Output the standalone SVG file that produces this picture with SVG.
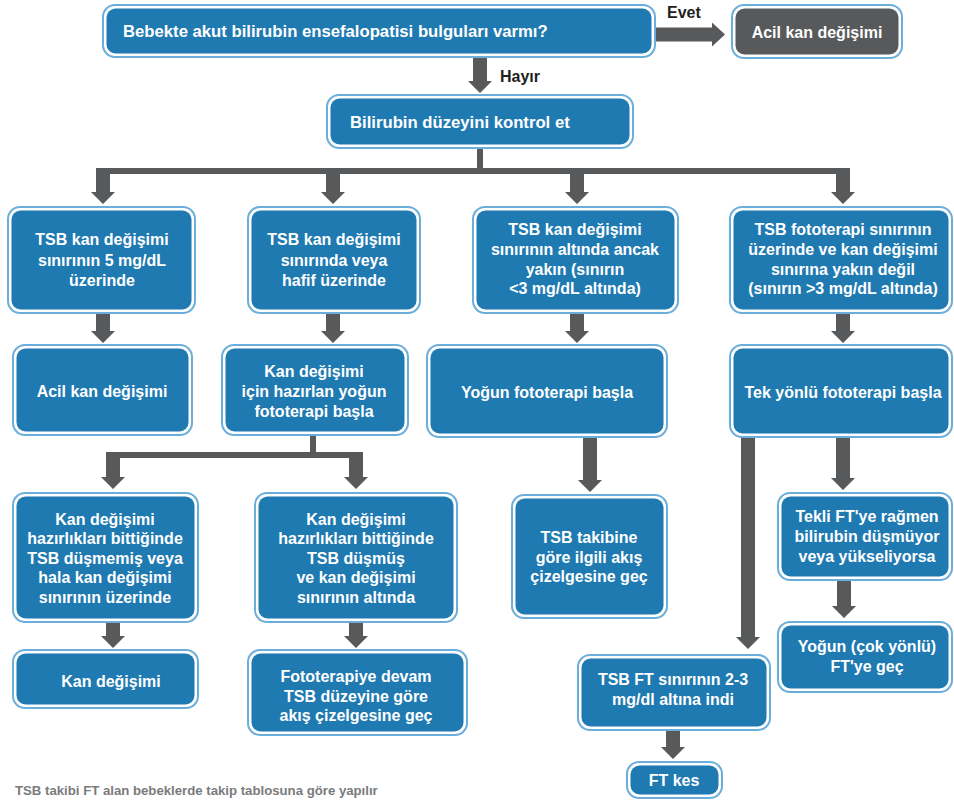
<svg xmlns="http://www.w3.org/2000/svg" width="954" height="805" viewBox="0 0 954 805">
<style>
.o{fill:#fff;stroke:#6caedb;stroke-width:2}
.i{fill:#1f7ab1}
.d{fill:#58595b}
.t{font-family:"Liberation Sans",Arial,sans-serif;font-weight:bold;font-size:16px;fill:#fff;text-anchor:middle}
.l{text-anchor:start;font-size:16.7px}
.k{font-family:"Liberation Sans",Arial,sans-serif;font-weight:bold;font-size:16px;fill:#231f20}
.a{fill:#58595b}
.ln{stroke:#58595b;stroke-width:6;fill:none}
.f{font-family:"Liberation Sans",Arial,sans-serif;font-weight:bold;font-size:13.2px;fill:#7a7b7d}
</style>
<rect width="954" height="805" fill="#fff"/>
<g id="connectors">
<path class="a" d="M656,27.5 H712 V22.5 L725,34.5 L712,46.5 V41.5 H656 Z"/>
<text class="k" x="667" y="18">Evet</text>
<path class="a" d="M473,57 H487 V81 H492 L480,93 L468,81 H473 Z"/>
<text class="k" x="500" y="82">Hayır</text>
<path class="ln" d="M480,148 V171 M96,171 H850 M313,435 V455 M106,455 H363"/>
<path class="a" d="M96,168 H110 V192 H115 L103,204 L91,192 H96 Z"/>
<path class="a" d="M326,168 H340 V192 H345 L333,204 L321,192 H326 Z"/>
<path class="a" d="M570,168 H584 V192 H589 L577,204 L565,192 H570 Z"/>
<path class="a" d="M836,168 H850 V192 H855 L843,204 L831,192 H836 Z"/>
<path class="a" d="M96,313 H110 V331 H115 L103,343 L91,331 H96 Z"/>
<path class="a" d="M326,313 H340 V331 H345 L333,343 L321,331 H326 Z"/>
<path class="a" d="M570,313 H584 V331 H589 L577,343 L565,331 H570 Z"/>
<path class="a" d="M836,313 H850 V331 H855 L843,343 L831,331 H836 Z"/>
<path class="a" d="M106,452 H120 V477 H125 L113,489 L101,477 H106 Z"/>
<path class="a" d="M349,452 H363 V477 H368 L356,489 L344,477 H349 Z"/>
<path class="a" d="M583,437 H597 V480 H602 L590,492 L578,480 H583 Z"/>
<path class="a" d="M836,437 H850 V478 H855 L843,490 L831,478 H836 Z"/>
<path class="a" d="M741,437 H755 V637 H760 L748,649 L736,637 H741 Z"/>
<path class="a" d="M106,622 H120 V636 H125 L113,648 L101,636 H106 Z"/>
<path class="a" d="M349,622 H363 V636 H368 L356,648 L344,636 H349 Z"/>
<path class="a" d="M837,580 H851 V606 H856 L844,618 L832,606 H837 Z"/>
<path class="a" d="M666,730 H680 V747 H685 L673,759 L661,747 H666 Z"/>
</g>
<g id="q1">
<rect class="o" x="103" y="5" width="552" height="52" rx="12"/>
<rect class="i" x="106.5" y="8.5" width="545" height="45" rx="9"/>
<text class="t l" x="123" y="37">Bebekte akut bilirubin ensefalopatisi bulguları varmı?</text>
</g>
<g id="acil-top">
<rect class="o" x="732" y="5" width="170" height="53" rx="12"/>
<rect class="d" x="735.5" y="8.5" width="163" height="46" rx="9"/>
<text class="t" x="817" y="38">Acil kan değişimi</text>
</g>
<g id="bilirubin">
<rect class="o" x="327" y="95" width="306" height="53" rx="12"/>
<rect class="i" x="330.5" y="98.5" width="299" height="46" rx="9"/>
<text class="t l" x="350" y="128">Bilirubin düzeyini kontrol et</text>
</g>
<g id="r1a">
<rect class="o" x="8" y="207" width="187" height="106" rx="12"/>
<rect class="i" x="11.5" y="210.5" width="180" height="99" rx="9"/>
<text class="t" x="102" y="245">TSB kan değişimi</text>
<text class="t" x="102" y="266">sınırının 5 mg/dL</text>
<text class="t" x="102" y="286">üzerinde</text>
</g>
<g id="r1b">
<rect class="o" x="248" y="207" width="172" height="106" rx="12"/>
<rect class="i" x="251.5" y="210.5" width="165" height="99" rx="9"/>
<text class="t" x="334" y="245">TSB kan değişimi</text>
<text class="t" x="334" y="266">sınırında veya</text>
<text class="t" x="334" y="286">hafif üzerinde</text>
</g>
<g id="r1c">
<rect class="o" x="473" y="207" width="205" height="106" rx="12"/>
<rect class="i" x="476.5" y="210.5" width="198" height="99" rx="9"/>
<text class="t" x="575" y="235">TSB kan değişimi</text>
<text class="t" x="575" y="255">sınırının altında ancak</text>
<text class="t" x="575" y="275">yakın (sınırın</text>
<text class="t" x="575" y="294">&lt;3 mg/dL altında)</text>
</g>
<g id="r1d">
<rect class="o" x="730" y="207" width="222" height="106" rx="12"/>
<rect class="i" x="733.5" y="210.5" width="215" height="99" rx="9"/>
<text class="t" x="843" y="235">TSB fototerapi sınırının</text>
<text class="t" x="843" y="255">üzerinde ve kan değişimi</text>
<text class="t" x="843" y="275">sınırına yakın değil</text>
<text class="t" x="843" y="294">(sınırın &gt;3 mg/dL altında)</text>
</g>
<g id="r2a">
<rect class="o" x="13" y="345" width="179" height="90" rx="12"/>
<rect class="i" x="16.5" y="348.5" width="172" height="83" rx="9"/>
<text class="t" x="102" y="397">Acil kan değişimi</text>
</g>
<g id="r2b">
<rect class="o" x="222" y="345" width="186" height="90" rx="12"/>
<rect class="i" x="225.5" y="348.5" width="179" height="83" rx="9"/>
<text class="t" x="314" y="377">Kan değişimi</text>
<text class="t" x="314" y="397">için hazırlan yoğun</text>
<text class="t" x="314" y="417">fototerapi başla</text>
</g>
<g id="r2c">
<rect class="o" x="427" y="345" width="240" height="92" rx="12"/>
<rect class="i" x="430.5" y="348.5" width="233" height="85" rx="9"/>
<text class="t" x="547" y="398">Yoğun fototerapi başla</text>
</g>
<g id="r2d">
<rect class="o" x="730" y="345" width="222" height="92" rx="12"/>
<rect class="i" x="733.5" y="348.5" width="215" height="85" rx="9"/>
<text class="t" x="843" y="398">Tek yönlü fototerapi başla</text>
</g>
<g id="r3e">
<rect class="o" x="13" y="493" width="185" height="129" rx="12"/>
<rect class="i" x="16.5" y="496.5" width="178" height="122" rx="9"/>
<text class="t" x="105" y="525">Kan değişimi</text>
<text class="t" x="105" y="544">hazırlıkları bittiğinde</text>
<text class="t" x="105" y="564">TSB düşmemiş veya</text>
<text class="t" x="105" y="583">hala kan değişimi</text>
<text class="t" x="105" y="603">sınırının üzerinde</text>
</g>
<g id="r3f">
<rect class="o" x="255" y="493" width="202" height="129" rx="12"/>
<rect class="i" x="258.5" y="496.5" width="195" height="122" rx="9"/>
<text class="t" x="356" y="525">Kan değişimi</text>
<text class="t" x="356" y="544">hazırlıkları bittiğinde</text>
<text class="t" x="356" y="564">TSB düşmüş</text>
<text class="t" x="356" y="583">ve kan değişimi</text>
<text class="t" x="356" y="603">sınırının altında</text>
</g>
<g id="r3i">
<rect class="o" x="512" y="495" width="155" height="123" rx="12"/>
<rect class="i" x="515.5" y="498.5" width="148" height="116" rx="9"/>
<text class="t" x="589" y="543">TSB takibine</text>
<text class="t" x="589" y="563">göre ilgili akış</text>
<text class="t" x="589" y="582">çizelgesine geç</text>
</g>
<g id="r3l">
<rect class="o" x="778" y="493" width="174" height="87" rx="12"/>
<rect class="i" x="781.5" y="496.5" width="167" height="80" rx="9"/>
<text class="t" x="867" y="522">Tekli FT'ye rağmen</text>
<text class="t" x="867" y="542">bilirubin düşmüyor</text>
<text class="t" x="867" y="562">veya yükseliyorsa</text>
</g>
<g id="r4g">
<rect class="o" x="13" y="650" width="185" height="58" rx="12"/>
<rect class="i" x="16.5" y="653.5" width="178" height="51" rx="9"/>
<text class="t" x="111" y="687">Kan değişimi</text>
</g>
<g id="r4h">
<rect class="o" x="248" y="650" width="219" height="85" rx="12"/>
<rect class="i" x="251.5" y="653.5" width="212" height="78" rx="9"/>
<text class="t" x="356" y="682">Fototerapiye devam</text>
<text class="t" x="356" y="702">TSB düzeyine göre</text>
<text class="t" x="356" y="721">akış çizelgesine geç</text>
</g>
<g id="r4m">
<rect class="o" x="778" y="622" width="174" height="70" rx="12"/>
<rect class="i" x="781.5" y="625.5" width="167" height="63" rx="9"/>
<text class="t" x="867" y="652">Yoğun (çok yönlü)</text>
<text class="t" x="867" y="672">FT'ye geç</text>
</g>
<g id="r4j">
<rect class="o" x="578" y="655" width="192" height="75" rx="12"/>
<rect class="i" x="581.5" y="658.5" width="185" height="68" rx="9"/>
<text class="t" x="673" y="685">TSB FT sınırının 2-3</text>
<text class="t" x="673" y="705">mg/dl altına indi</text>
</g>
<g id="r5k">
<rect class="o" x="627" y="762" width="95" height="36" rx="12"/>
<rect class="i" x="630.5" y="765.5" width="88" height="29" rx="9"/>
<text class="t" x="674" y="786">FT kes</text>
</g>
<g id="footer">
<text class="f" x="15" y="795">TSB takibi FT alan bebeklerde takip tablosuna göre yapılır</text>
</g>
</svg>
